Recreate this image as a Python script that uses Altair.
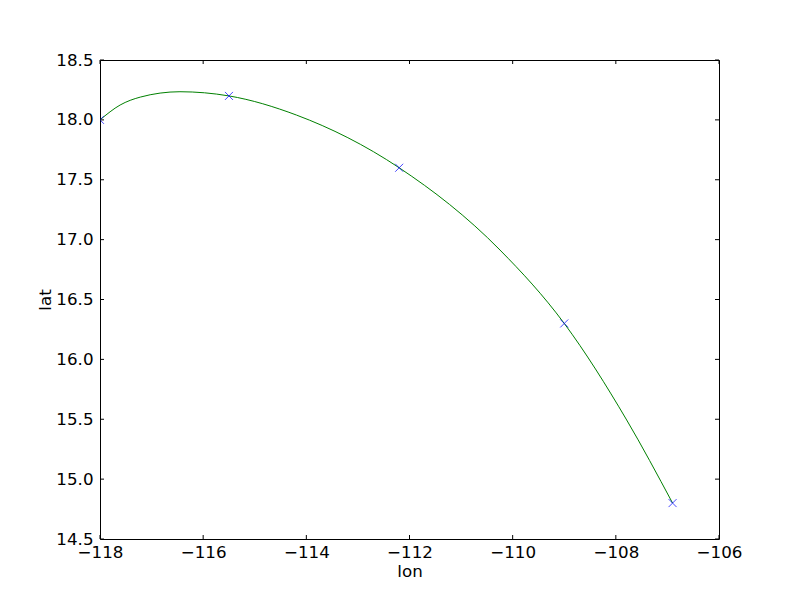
import altair as alt
import pandas as pd

# observed track points (markers)
lon = [-118.0, -115.5, -112.2, -109.0, -106.9]
lat = [18.0, 18.2, 17.6, 16.3, 14.8]

# green fitted curve
curve_lon = [-118.0, -117.61, -117.22, -116.45, -115.5, -114.19, -112.2, -110.245, -109.0, -107.79, -106.9]
curve_lat = [18.0, 18.124, 18.19, 18.235, 18.2, 18.04, 17.6, 16.913, 16.3, 15.494, 14.8]

x_ticks = [-118, -116, -114, -112, -110, -108, -106]
y_ticks = [14.5, 15.0, 15.5, 16.0, 16.5, 17.0, 17.5, 18.0, 18.5]

W, H = 619, 479
FONT = "DejaVu Sans"
FS = 16.7

df = pd.DataFrame({"lon": lon, "lat": lat})
cdf = pd.DataFrame({"lon": curve_lon, "lat": curve_lat})
xt = pd.DataFrame({"v": x_ticks})
yt = pd.DataFrame({"v": y_ticks})

xs = alt.Scale(domain=[-118, -106], nice=False, zero=False)
ys = alt.Scale(domain=[14.5, 18.5], nice=False, zero=False)

xaxis = alt.Axis(values=x_ticks, format="d", title="lon", grid=False, ticks=False, tickSize=0,
                 domain=False, labelFont=FONT, labelFontSize=FS, labelColor="black",
                 labelPadding=5, titleFont=FONT, titleFontSize=FS, titleFontWeight="normal",
                 titleColor="black", titlePadding=3, labelFlush=False, labelOverlap=False)
yaxis = alt.Axis(values=y_ticks, format=".1f", title="lat", grid=False, ticks=False, tickSize=0,
                 domain=False, labelFont=FONT, labelFontSize=FS, labelColor="black",
                 labelPadding=7, titleFont=FONT, titleFontSize=FS, titleFontWeight="normal",
                 titleColor="black", titlePadding=1, labelFlush=False, labelOverlap=False)

line = alt.Chart(cdf).mark_line(interpolate="monotone", color="#008000", strokeWidth=1, clip=True).encode(
    x=alt.X("lon:Q", scale=xs, axis=xaxis),
    y=alt.Y("lat:Q", scale=ys, axis=yaxis),
    order=alt.Order("lon:Q"),
)

pts = alt.Chart(df).mark_point(shape="M-1,-1L1,1M-1,1L1,-1", size=64, color="#0000ff",
                               strokeWidth=1, filled=False, clip=True).encode(
    x=alt.X("lon:Q", scale=xs),
    y=alt.Y("lat:Q", scale=ys),
)

tick_len = 4
xb = alt.Chart(xt).mark_rule(color="black", strokeWidth=1).encode(
    x=alt.X("v:Q", scale=xs), y=alt.value(H), y2=alt.value(H - tick_len))
xtop = alt.Chart(xt).mark_rule(color="black", strokeWidth=1).encode(
    x=alt.X("v:Q", scale=xs), y=alt.value(0), y2=alt.value(tick_len))
yl = alt.Chart(yt).mark_rule(color="black", strokeWidth=1).encode(
    y=alt.Y("v:Q", scale=ys), x=alt.value(0), x2=alt.value(tick_len))
yr = alt.Chart(yt).mark_rule(color="black", strokeWidth=1).encode(
    y=alt.Y("v:Q", scale=ys), x=alt.value(W), x2=alt.value(W - tick_len))

chart = alt.layer(line, pts, xb, xtop, yl, yr).properties(
    width=W, height=H,
    autosize=alt.AutoSizeParams(type="none"),
    padding={"left": 92, "top": 52, "right": 73, "bottom": 53},
    background="white",
).configure_view(stroke="black", strokeWidth=1)

chart.save("out.html", embed_options={"renderer": "svg", "actions": False})
